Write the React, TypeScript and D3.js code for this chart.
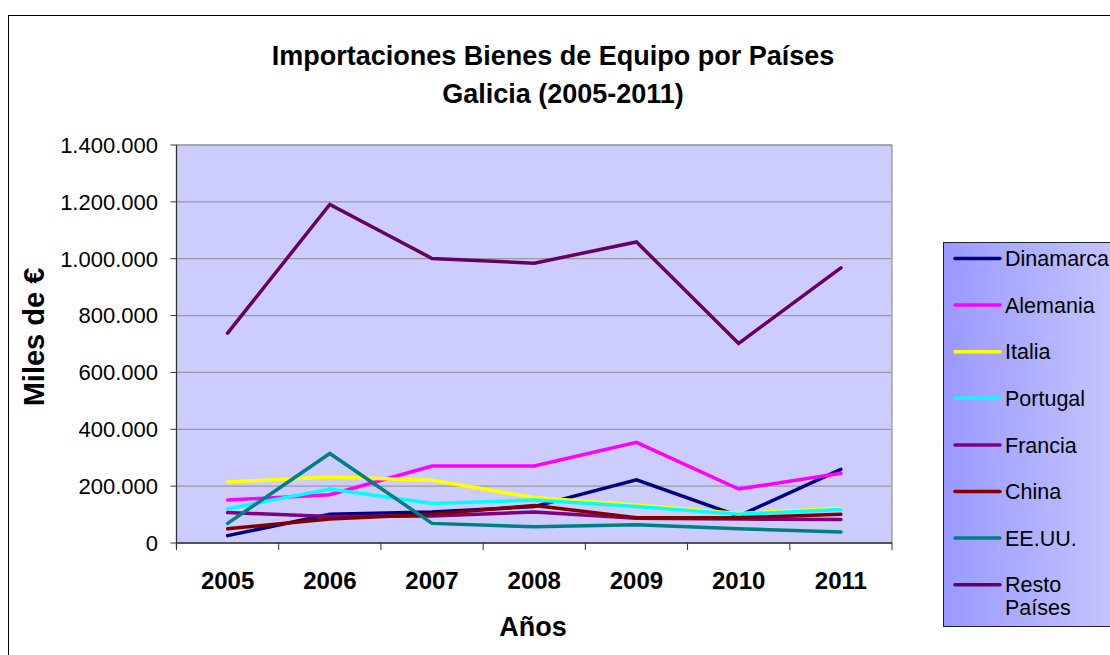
import React from 'react';
import * as d3 from 'd3';

const years = ['2005', '2006', '2007', '2008', '2009', '2010', '2011'];
const dinamarca = [26000, 101000, 109000, 128000, 222000, 95000, 259000];
const alemania = [151000, 170000, 271000, 271000, 354000, 190000, 245000];
const italia = [215000, 232000, 221000, 160000, 134000, 104000, 122000];
const portugal = [120000, 190000, 139000, 151000, 128000, 101000, 118000];
const francia = [107000, 93000, 95000, 109000, 87000, 84000, 83000];
const china = [50000, 84000, 101000, 132000, 89000, 89000, 101000];
const eeuu = [69000, 315000, 69000, 57000, 64000, 50000, 39000];
const resto = [738000, 1191000, 1001000, 984000, 1059000, 702000, 968000];
const yTicks = [0, 200000, 400000, 600000, 800000, 1000000, 1200000, 1400000];

const series = [
  { name: ['Dinamarca'], values: dinamarca, color: '#000080' },
  { name: ['Alemania'], values: alemania, color: '#FF00FF' },
  { name: ['Italia'], values: italia, color: '#FFFF00' },
  { name: ['Portugal'], values: portugal, color: '#00FFFF' },
  { name: ['Francia'], values: francia, color: '#800080' },
  { name: ['China'], values: china, color: '#800000' },
  { name: ['EE.UU.'], values: eeuu, color: '#008080' },
  { name: ['Resto', 'Países'], values: resto, color: '#660066' },
];

const W = 1110;
const H = 655;
const plot = { left: 176.5, top: 145, right: 892, bottom: 543 };

const fmt = (v: number) => (v === 0 ? '0' : d3.format(',')(v).replace(/,/g, '.'));

export default function App() {
  const x = d3
    .scaleBand<string>()
    .domain(years)
    .range([plot.left, plot.right])
    .paddingInner(0)
    .paddingOuter(0);
  const y = d3.scaleLinear().domain([0, 1400000]).range([plot.bottom, plot.top]);
  const line = d3
    .line<number>()
    .x((_, i) => (x(years[i]) as number) + x.bandwidth() / 2)
    .y((d) => y(d));

  const font = '"Liberation Sans", Arial, Helvetica, sans-serif';
  const legend = { x: 943.5, y: 242.5, w: 200, h: 384, row0: 258.5, step: 46.6 };
  const tickXs = years.map((yr) => x(yr) as number).concat([plot.right]);

  return (
    <svg
      width={W}
      height={H}
      style={{ position: 'absolute', left: 0, top: 0, background: '#fff' }}
      fontFamily={font}
    >
      <defs>
        <linearGradient id="legGrad" x1="0" x2="1" y1="0" y2="0">
          <stop offset="0" stopColor="#9999FF" />
          <stop offset="1" stopColor="#CCCCFF" />
        </linearGradient>
      </defs>
      <rect x={0} y={0} width={W} height={H} fill="#fff" />
      {/* chart area border */}
      <rect x={8.5} y={15.5} width={1130} height={660} fill="none" stroke="#000" strokeWidth={1} />

      {/* title */}
      <text x={553} y={65} textAnchor="middle" fontWeight="bold" fontSize={27} fill="#000">
        Importaciones Bienes de Equipo por Países
      </text>
      <text x={563} y={103} textAnchor="middle" fontWeight="bold" fontSize={27} fill="#000">
        Galicia (2005-2011)
      </text>

      {/* plot area */}
      <rect
        x={plot.left}
        y={plot.top}
        width={plot.right - plot.left}
        height={plot.bottom - plot.top}
        fill="#CCCCFF"
        stroke="#808080"
        strokeWidth={1}
      />
      {yTicks.slice(1).map((t) => (
        <line key={'g' + t} x1={plot.left} x2={plot.right} y1={y(t)} y2={y(t)} stroke="#999999" strokeWidth={1.2} />
      ))}

      {/* y axis */}
      <line x1={plot.left} x2={plot.left} y1={plot.top} y2={plot.bottom + 6} stroke="#333" strokeWidth={1.3} />
      {yTicks.map((t) => (
        <g key={'t' + t}>
          <line x1={plot.left - 6} x2={plot.left} y1={y(t)} y2={y(t)} stroke="#333" strokeWidth={1} />
          <text x={158} y={y(t)} dy="0.36em" textAnchor="end" fontSize={22} fill="#000">
            {fmt(t)}
          </text>
        </g>
      ))}

      {/* x axis */}
      <line x1={plot.left} x2={plot.right} y1={plot.bottom} y2={plot.bottom} stroke="#333" strokeWidth={1.3} />
      {tickXs.map((tx, i) => (
        <line key={'xt' + i} x1={tx} x2={tx} y1={plot.bottom} y2={plot.bottom + 7} stroke="#333" strokeWidth={1} />
      ))}
      {years.map((yr) => (
        <text
          key={'xl' + yr}
          x={(x(yr) as number) + x.bandwidth() / 2}
          y={588.5}
          textAnchor="middle"
          fontWeight="bold"
          fontSize={24}
          fill="#000"
        >
          {yr}
        </text>
      ))}

      {/* axis titles */}
      <text x={533} y={636} textAnchor="middle" fontWeight="bold" fontSize={27} fill="#000">
        Años
      </text>
      <text
        transform="translate(44,337) rotate(-90)"
        textAnchor="middle"
        fontWeight="bold"
        fontSize={29}
        fill="#000"
      >
        Miles de €
      </text>

      {/* series */}
      {series.map((s) => (
        <path
          key={'s' + s.name.join(' ')}
          d={line(s.values) as string}
          fill="none"
          stroke={s.color}
          strokeWidth={3.5}
          strokeLinejoin="miter"
          strokeLinecap="round"
        />
      ))}

      {/* legend */}
      <rect
        x={legend.x}
        y={legend.y}
        width={legend.w}
        height={legend.h}
        fill="url(#legGrad)"
        stroke="#222"
        strokeWidth={1}
      />
      {series.map((s, i) => {
        const cy = legend.row0 + i * legend.step;
        return (
          <g key={'l' + i}>
            <line x1={955} x2={1000} y1={cy} y2={cy} stroke={s.color} strokeWidth={3.5} strokeLinecap="round" />
            {s.name.map((n, j) => (
              <text key={j} x={1005} y={cy + j * 23} dy="0.36em" fontSize={21.5} fill="#000">
                {n}
              </text>
            ))}
          </g>
        );
      })}
    </svg>
  );
}
